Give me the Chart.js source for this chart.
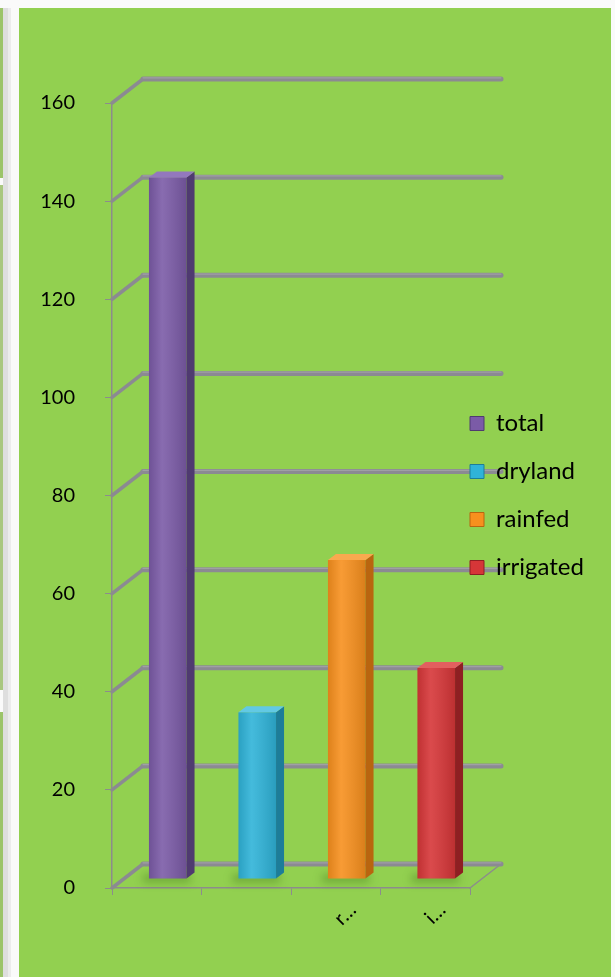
<!DOCTYPE html>
<html>
<head>
<meta charset="utf-8">
<script src="https://cdn.jsdelivr.net/npm/chart.js@4.4.1/dist/chart.umd.min.js"></script>
<style>
  html, body { margin: 0; padding: 0; background: #fafafa; }
  body { width: 615px; height: 977px; position: relative; overflow: hidden; }
  .edge { position: absolute; left: 0; width: 3px; background: #9cc46a; }
  .grey { position: absolute; left: 3px; top: 8px; width: 5px; height: 969px; background: #dedede; }
  .light { position: absolute; left: 8px; top: 8px; width: 3px; height: 969px; background: #ececec; }
  #panel { position: absolute; left: 19px; top: 8px; width: 592px; height: 969px; background: #92d050; }
</style>
</head>
<body>
<div class="edge" style="top:8px;height:170px"></div>
<div class="edge" style="top:185px;height:505px;background:#a9c77f"></div>
<div class="edge" style="top:712px;height:265px"></div>
<div class="grey"></div>
<div class="light"></div>
<div id="panel"><canvas id="chart"></canvas></div>
<script>
const categories = ["total", "dryland", "rainfed", "irrigated"];
const values = [143, 34, 65, 43];
const yTicks = [0, 20, 40, 60, 80, 100, 120, 140, 160];

// face colours of each bar (front, right side, top)
const FRONT = ["#7b5ba7", "#2fb3d8", "#f7901e", "#d63638"];
const SIDE = ["#4f3a70", "#1d7d99", "#b9650f", "#8e1f22"];
const TOP = ["#9378bd", "#62c9e4", "#f9a94f", "#e2605f"];

const GRID = "#8b8a92";
const WALL = { dx: 31, dy: -24 };     // back wall offset from the front axes
const SHIFT = { dx: 11, dy: -9 };     // bars sit partly into the depth
const DEPTH = { dx: 8, dy: -6 };      // depth of each bar

function seg(ctx, x1, y1, x2, y2) {
  ctx.beginPath();
  ctx.moveTo(x1, y1);
  ctx.lineTo(x2, y2);
  ctx.stroke();
}

function poly(ctx, pts, fill) {
  ctx.beginPath();
  pts.forEach(([px, py], i) => (i ? ctx.lineTo(px, py) : ctx.moveTo(px, py)));
  ctx.closePath();
  ctx.fillStyle = fill;
  ctx.fill();
}

const frame3d = {
  id: "frame3d",
  afterLayout(chart) {
    // legend sits over the right end of the back wall
    chart.legend.left -= 24;
    chart.legend.right -= 24;
  },
  beforeDraw(chart) {
    const { ctx, chartArea: { left, right }, scales: { y } } = chart;
    const y0 = y.getPixelForValue(0);
    ctx.save();
    ctx.lineCap = "round";
    ctx.strokeStyle = "#8c8c8c";
    ctx.lineWidth = 1.5;
    seg(ctx, right, y0, right + WALL.dx, y0 + WALL.dy);
    yTicks.forEach((v) => {
      const py = y.getPixelForValue(v);
      ctx.strokeStyle = GRID;
      ctx.lineWidth = 3.5;
      seg(ctx, left, py, left + WALL.dx, py + WALL.dy);
      ctx.lineWidth = 5;
      seg(ctx, left + WALL.dx, py + WALL.dy, right + WALL.dx, py + WALL.dy);
      ctx.strokeStyle = "rgba(255,255,255,0.18)";
      ctx.lineWidth = 1.2;
      seg(ctx, left + WALL.dx, py + WALL.dy - 1.2, right + WALL.dx, py + WALL.dy - 1.2);
    });
    ctx.restore();
  },
  beforeDatasetsDraw(chart) {
    const { ctx } = chart;
    const bars = chart.getDatasetMeta(0).data;
    ctx.save();
    // soft shadow on the floor
    ctx.filter = "blur(4px)";
    ctx.fillStyle = "rgba(40,90,10,0.35)";
    bars.forEach((b) => {
      ctx.fillRect(b.x - b.width / 2 + SHIFT.dx - 6, b.base + SHIFT.dy - 4, b.width + 10, 8);
    });
    ctx.filter = "none";
    ctx.translate(SHIFT.dx, SHIFT.dy);
  },
  afterDatasetsDraw(chart) {
    const { ctx } = chart;
    chart.getDatasetMeta(0).data.forEach((b, i) => {
      const l = b.x - b.width / 2;
      const r = b.x + b.width / 2;
      const t = b.y;
      const bot = b.base;
      const g = ctx.createLinearGradient(l, 0, r, 0);
      g.addColorStop(0, "rgba(0,0,0,0.10)");
      g.addColorStop(0.35, "rgba(255,255,255,0.10)");
      g.addColorStop(1, "rgba(0,0,0,0.12)");
      ctx.fillStyle = g;
      ctx.fillRect(l, t, r - l, bot - t);
      poly(ctx, [[r, bot], [r, t], [r + DEPTH.dx, t + DEPTH.dy], [r + DEPTH.dx, bot + DEPTH.dy]], SIDE[i]);
      poly(ctx, [[l, t], [r, t], [r + DEPTH.dx, t + DEPTH.dy], [l + DEPTH.dx, t + DEPTH.dy]], TOP[i]);
    });
    ctx.restore();
  }
};

new Chart(document.getElementById("chart"), {
  type: "bar",
  data: {
    labels: categories,
    datasets: [{
      label: "value",
      data: values,
      backgroundColor: FRONT,
      borderWidth: 0,
      categoryPercentage: 1,
      barPercentage: 0.42
    }]
  },
  options: {
    responsive: true,
    maintainAspectRatio: false,
    animation: false,
    layout: { padding: { top: 95, bottom: 29, left: 0, right: 0 } },
    plugins: {
      tooltip: { enabled: false },
      legend: {
        position: "right",
        fullSize: false,
        maxWidth: 141,
        labels: {
          boxWidth: 14,
          boxHeight: 14,
          padding: 24,
          color: "#000",
          font: { family: "Lato", size: 24 },
          generateLabels: (chart) => chart.data.labels.map((text, i) => ({
            text,
            fillStyle: FRONT[i],
            strokeStyle: SIDE[i],
            lineWidth: 1,
            fontColor: "#000",
            hidden: false,
            index: i
          }))
        }
      }
    },
    scales: {
      x: {
        afterFit: (scale) => { scale.height = 60; },
        grid: { drawOnChartArea: false, drawTicks: true, tickLength: 7, color: "#8c8c8c" },
        border: { display: true, color: "#8c8c8c", width: 1.5 },
        ticks: {
          autoSkip: false,
          minRotation: 45,
          maxRotation: 45,
          labelOffset: 17,
          padding: 3,
          color: "#000",
          font: { family: "Lato", size: 20 },
          callback(value, index) {
            const label = this.getLabelForValue(value);
            return index < 2 ? "" : label[0] + "\u2026";
          }
        }
      },
      y: {
        min: yTicks[0],
        max: yTicks[yTicks.length - 1],
        afterFit: (scale) => { scale.width = 93; },
        grid: { drawOnChartArea: false, drawTicks: true, tickLength: 7, color: "#8c8c8c" },
        border: { display: true, color: "#8c8c8c", width: 1.5 },
        ticks: {
          stepSize: yTicks[1] - yTicks[0],
          padding: 30,
          color: "#000",
          font: { family: "Lato", size: 20 }
        }
      }
    }
  },
  plugins: [frame3d]
});
</script>
</body>
</html>
